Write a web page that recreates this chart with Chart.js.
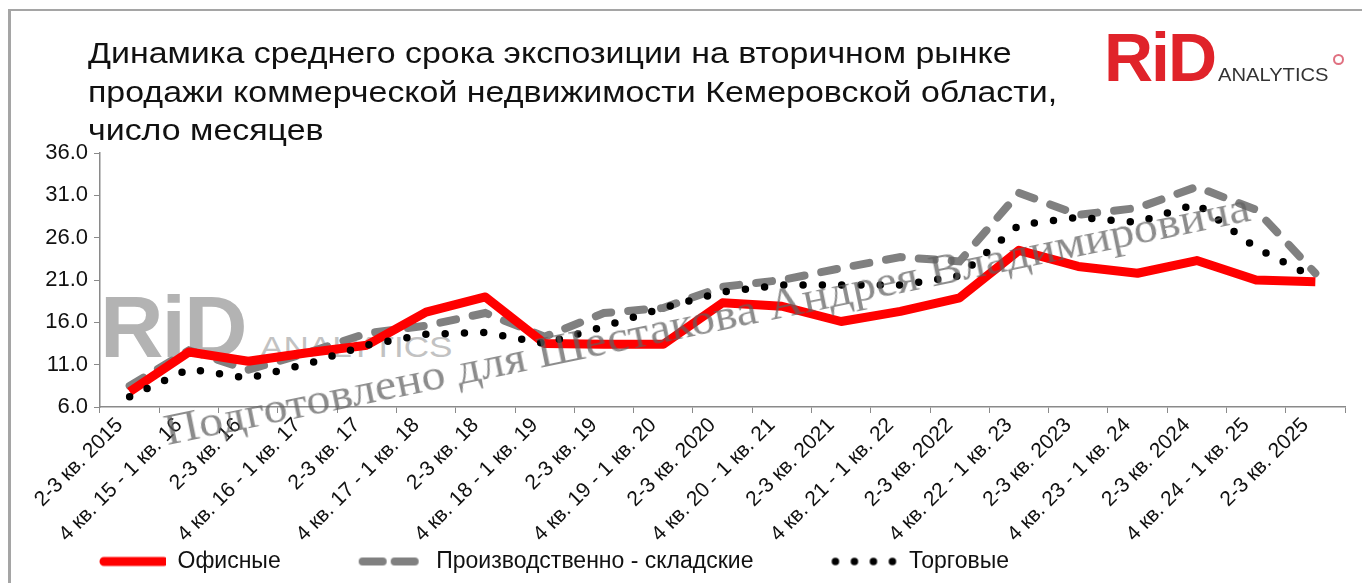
<!DOCTYPE html>
<html>
<head>
<meta charset="utf-8">
<script src="https://cdn.jsdelivr.net/npm/chart.js@4.4.0/dist/chart.umd.min.js"></script>
<style>
  html, body { margin: 0; padding: 0; background: #fff; }
  #wrap { position: relative; width: 1362px; height: 583px; overflow: hidden; font-family: "Liberation Sans", Arial, sans-serif; }
  #frame { position: absolute; left: 8px; top: 9px; width: 1400px; height: 600px; border-left: 3px solid #a5a5a5; border-top: 2px solid #a5a5a5; }
  #wm-logo { position: absolute; left: 100px; top: 276px; color: #b3b3b3; white-space: nowrap; }
  #wm-logo .big { font-weight: bold; font-size: 88px; letter-spacing: -2px; }
  #wm-logo .small { font-size: 30px; display: inline-block; transform: scaleX(1.17); transform-origin: left; margin-left: 14px; color: #c2c2c2; }
  #chart { position: absolute; left: 0; top: 0; }
  #title { position: absolute; left: 88px; top: 34px; font-size: 29px; line-height: 38.5px; color: #111; transform: scaleX(1.17); transform-origin: left top; white-space: nowrap; }
  #logo { position: absolute; left: 1104px; top: 18px; white-space: nowrap; }
  #logo .rid { font-weight: bold; font-size: 68px; color: #e0232a; letter-spacing: -2px; }
  #logo .an { font-size: 18px; color: #333; display: inline-block; transform: scaleX(1.12); transform-origin: left; margin-left: 3px; }
  #logo .dot { position: absolute; left: 229px; top: 36px; width: 7px; height: 7px; border: 2px solid #e07080; border-radius: 50%; }
  #wm-text { position: absolute; left: 168px; top: 408px; font-family: "Liberation Serif", "Times New Roman", serif; font-size: 45px; line-height: 45px; color: rgba(95, 95, 95, 0.72); white-space: nowrap; transform: rotate(-11.7deg) scaleX(1.07); transform-origin: 0 88%; pointer-events: none; }
</style>
</head>
<body>
<div id="wrap">
  <div id="frame"></div>
  <div id="wm-logo"><span class="big">RiD</span><span class="small">ANALYTICS</span></div>
  <canvas id="chart" width="1362" height="583"></canvas>
  <div id="wm-text">Подготовлено для Шестакова Андрея Владимировича</div>
  <div id="title">Динамика среднего срока экспозиции на вторичном рынке<br>продажи коммерческой недвижимости Кемеровской области,<br>число месяцев</div>
  <div id="logo"><span class="rid">RiD</span><span class="an">ANALYTICS</span><span class="dot"></span></div>
</div>
<script>
var periods = ['2-3 кв. 2015', '4 кв. 15 - 1 кв. 16', '2-3 кв. 16', '4 кв. 16 - 1 кв. 17', '2-3 кв. 17',
  '4 кв. 17 - 1 кв. 18', '2-3 кв. 18', '4 кв. 18 - 1 кв. 19', '2-3 кв. 19', '4 кв. 19 - 1 кв. 20',
  '2-3 кв. 2020', '4 кв. 20 - 1 кв. 21', '2-3 кв. 2021', '4 кв. 21 - 1 кв. 22', '2-3 кв. 2022',
  '4 кв. 22 - 1 кв. 23', '2-3 кв. 2023', '4 кв. 23 - 1 кв. 24', '2-3 кв. 2024', '4 кв. 24 - 1 кв. 25',
  '2-3 кв. 2025'];

var office = [7.8, 12.5, 11.4, 12.4, 13.3, 17.2, 19.0, 13.5, 13.4, 13.4, 18.3, 17.9, 16.1, 17.3, 18.9, 24.5, 22.6, 21.8, 23.3, 21.0, 20.8];
var warehouse = [8.5, 12.7, 10.4, 12.4, 14.7, 15.6, 17.1, 14.3, 17.1, 17.7, 20.2, 21.0, 22.4, 23.7, 23.2, 31.3, 28.7, 29.5, 32.0, 29.3, 21.8];
var retail = [7.2, 10.5, 9.4, 11.1, 13.3, 14.6, 14.8, 13.5, 15.5, 17.7, 19.6, 20.4, 20.4, 20.4, 21.5, 27.5, 28.4, 27.8, 30.0, 24.8, 21.2];

var seriesNames = ['Офисные', 'Производственно - складские', 'Торговые'];

var yMin = 6, yMax = 36, yStep = 5;

var FONT = '"Liberation Sans", Arial, sans-serif';
var LEG_GAP = 74;   // blank space in front of each legend sample
var LEG_PAD = 4;
var LEG_FONT = 23;

// legend samples: blank gap on the left, then the line
function legend_icon(color, width, dash, cap){
  var c = document.createElement('canvas');
  c.width = LEG_GAP + 66; c.height = 14;
  var g = c.getContext('2d');
  g.strokeStyle = color;
  g.lineWidth = width;
  g.lineCap = cap;
  g.setLineDash(dash);
  g.beginPath();
  g.moveTo(LEG_GAP + 4, 7);
  g.lineTo(LEG_GAP + 64, 7);
  g.stroke();
  return c;
}

var icons = [
  legend_icon('#ff0000', 9, [], 'round'),
  legend_icon('#808080', 8, [20, 12], 'round'),
  legend_icon('#000000', 7.5, [0, 19], 'round')
];

var ctx = document.getElementById('chart');
var myChart = new Chart(ctx, {
  type: 'line',
  data: {
    labels: periods,
    datasets: [{
      label: seriesNames[0],
      data: office,
      borderColor: '#ff0000',
      backgroundColor: '#ff0000',
      borderWidth: 9,
      borderJoinStyle: 'round',
      pointRadius: 0,
      tension: 0,
      order: 1
    }, {
      label: seriesNames[1],
      data: warehouse,
      borderColor: '#808080',
      backgroundColor: '#808080',
      borderWidth: 8,
      borderDash: [16, 17],
      borderCapStyle: 'round',
      pointRadius: 0,
      tension: 0,
      order: 2
    }, {
      label: seriesNames[2],
      data: retail,
      borderColor: '#000000',
      backgroundColor: '#000000',
      borderWidth: 7.5,
      borderDash: [0, 19.3],
      borderCapStyle: 'round',
      pointRadius: 0,
      tension: 0,
      order: 0
    }]
  },
  options: {
    responsive: false,
    animation: false,
    devicePixelRatio: 1,
    layout: {
      padding: { left: 100 - LEG_GAP - LEG_PAD, right: 17, top: 153, bottom: 0 }
    },
    plugins: {
      title: { display: false },
      tooltip: { enabled: false },
      legend: {
        position: 'bottom',
        align: 'start',
        labels: {
          usePointStyle: true,
          pointStyleWidth: LEG_GAP + 66,
          padding: LEG_PAD,
          color: '#111',
          font: { family: FONT, size: LEG_FONT },
          sort: function(a, b){ return a.datasetIndex - b.datasetIndex; },
          generateLabels: function(chart){
            var items = Chart.defaults.plugins.legend.labels.generateLabels(chart);
            items.forEach(function(it){ it.pointStyle = icons[it.datasetIndex]; });
            return items;
          }
        }
      }
    },
    scales: {
      x: {
        offset: true,
        grid: { display: true, drawOnChartArea: false, offset: true, drawTicks: true, tickLength: 6, color: '#8a8a8a' },
        border: { display: true, color: '#8a8a8a', width: 1.5 },
        ticks: { autoSkip: false, minRotation: 45, maxRotation: 45, padding: 0, labelOffset: -10, color: '#111', font: { family: FONT, size: 21 } },
        afterFit: function(scale){ scale.height = 583 - 407 - (LEG_FONT + LEG_PAD + 10); }
      },
      y: {
        min: yMin,
        max: yMax,
        grid: { display: true, drawOnChartArea: false, drawTicks: true, tickLength: 6, color: '#8a8a8a' },
        border: { display: true, color: '#8a8a8a', width: 1.5 },
        ticks: {
          stepSize: yStep,
          padding: 6,
          color: '#111',
          font: { family: FONT, size: 22 },
          callback: function(v){ return v.toFixed(1); }
        },
        afterFit: function(scale){ scale.width = LEG_GAP + LEG_PAD; }
      }
    }
  }
});
</script>
</body>
</html>
